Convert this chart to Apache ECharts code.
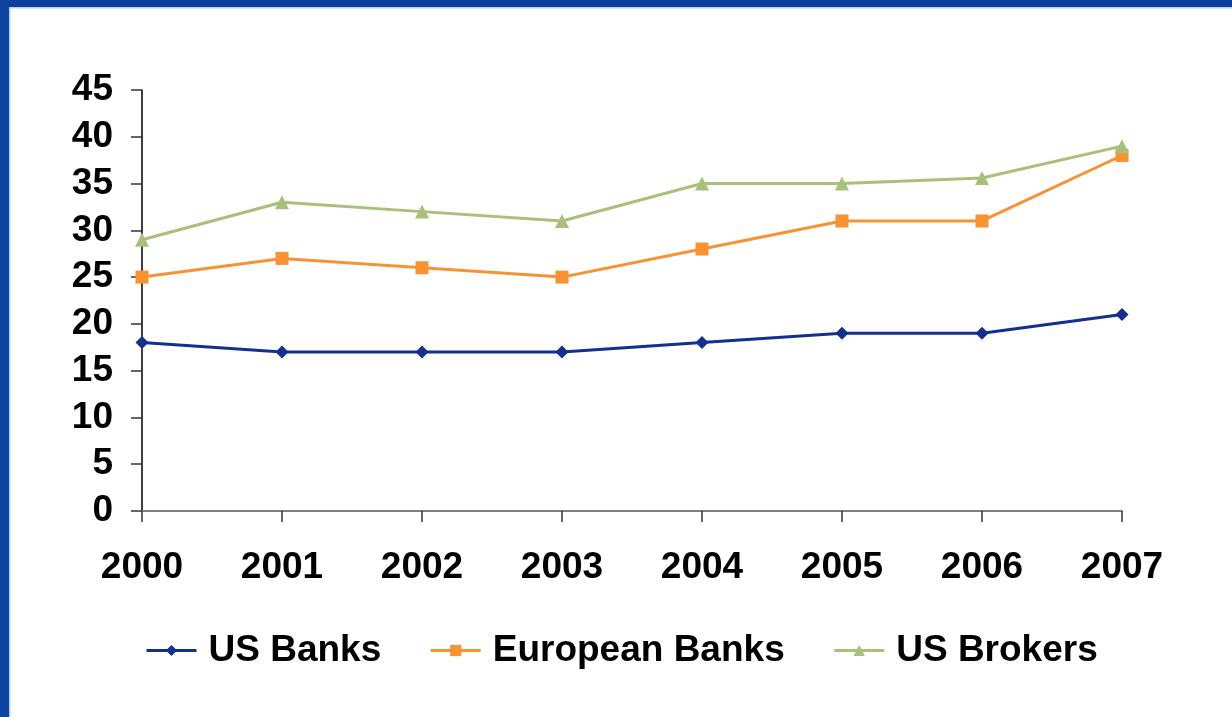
<!DOCTYPE html>
<html lang="en" style="height: 100%">
<head>
  <meta charset="utf-8">
  <style>
    body { margin: 0; height: 100%; background: #fff; }
    #container { width: 1232px; height: 717px; }
  </style>
</head>
<body>
  <div id="container"></div>
  <script type="text/javascript" src="https://fastly.jsdelivr.net/npm/echarts@6/dist/echarts.min.js"></script>
  <script type="text/javascript">
    var years = ['2000', '2001', '2002', '2003', '2004', '2005', '2006', '2007'];
    var usBanks = [18, 17, 17, 17, 18, 19, 19, 21];
    var europeanBanks = [25, 27, 26, 25, 28, 31, 31, 38];
    var usBrokers = [29, 33, 32, 31, 35, 35, 35.6, 39];

    var chart = echarts.init(document.getElementById('container'), null, { renderer: 'canvas' });
    var font = '"Liberation Sans", Arial, sans-serif';

    function lineSeries(name, data, color, symbol, size) {
      return {
        name: name,
        type: 'line',
        data: data,
        symbol: symbol,
        symbolSize: size,
        showAllSymbol: true,
        lineStyle: { color: color, width: 3 },
        itemStyle: { color: color },
        emphasis: { disabled: true }
      };
    }

    var option = {
      animation: false,
      backgroundColor: '#fff',
      textStyle: { fontFamily: font },
      graphic: [
        // slide frame
        { type: 'rect', shape: { x: 0, y: 0, width: 1232, height: 7 }, style: { fill: '#0a409c' }, z: 100 },
        { type: 'rect', shape: { x: 0, y: 0, width: 9, height: 717 }, style: { fill: '#0d46a2' }, z: 100 },
        { type: 'rect', shape: { x: 9, y: 7, width: 1223, height: 1.5 }, style: { fill: '#b8cdf0' }, z: 100 },
        { type: 'rect', shape: { x: 9, y: 7, width: 1.5, height: 710 }, style: { fill: '#b8cdf0' }, z: 100 }
      ],
      grid: { left: 142, right: 110, top: 90, bottom: 206, containLabel: false },
      legend: {
        left: 140,
        top: 627,
        itemWidth: 50,
        itemHeight: 14,
        itemGap: 48,
        lineStyle: { width: 3 },
        textStyle: {
          fontFamily: font,
          fontSize: 37,
          fontWeight: 'bold',
          color: '#000',
          padding: [0, 0, 0, 7]
        },
        data: ['US Banks', 'European Banks', 'US Brokers']
      },
      xAxis: {
        type: 'category',
        data: years,
        boundaryGap: false,
        axisLine: { lineStyle: { color: '#808080', width: 2 } },
        axisTick: { show: true, length: 11, lineStyle: { color: '#333', width: 1.5 } },
        axisLabel: {
          margin: 38,
          fontFamily: font,
          fontSize: 37,
          fontWeight: 'bold',
          color: '#000'
        },
        splitLine: { show: false }
      },
      yAxis: {
        type: 'value',
        min: 0,
        max: 45,
        interval: 5,
        axisLine: { show: true, lineStyle: { color: '#000', width: 1.5 } },
        axisTick: { show: true, length: 11, lineStyle: { color: '#333', width: 1.5 } },
        axisLabel: {
          margin: 29,
          fontFamily: font,
          fontSize: 37,
          fontWeight: 'bold',
          color: '#000'
        },
        splitLine: { show: false }
      },
      series: [
        lineSeries('US Banks', usBanks, '#13318c', 'diamond', 13),
        lineSeries('European Banks', europeanBanks, '#f79333', 'rect', 13),
        lineSeries('US Brokers', usBrokers, '#a8c07a', 'triangle', 14)
      ]
    };

    chart.setOption(option);
    window.addEventListener('resize', chart.resize);
  </script>
</body>
</html>
